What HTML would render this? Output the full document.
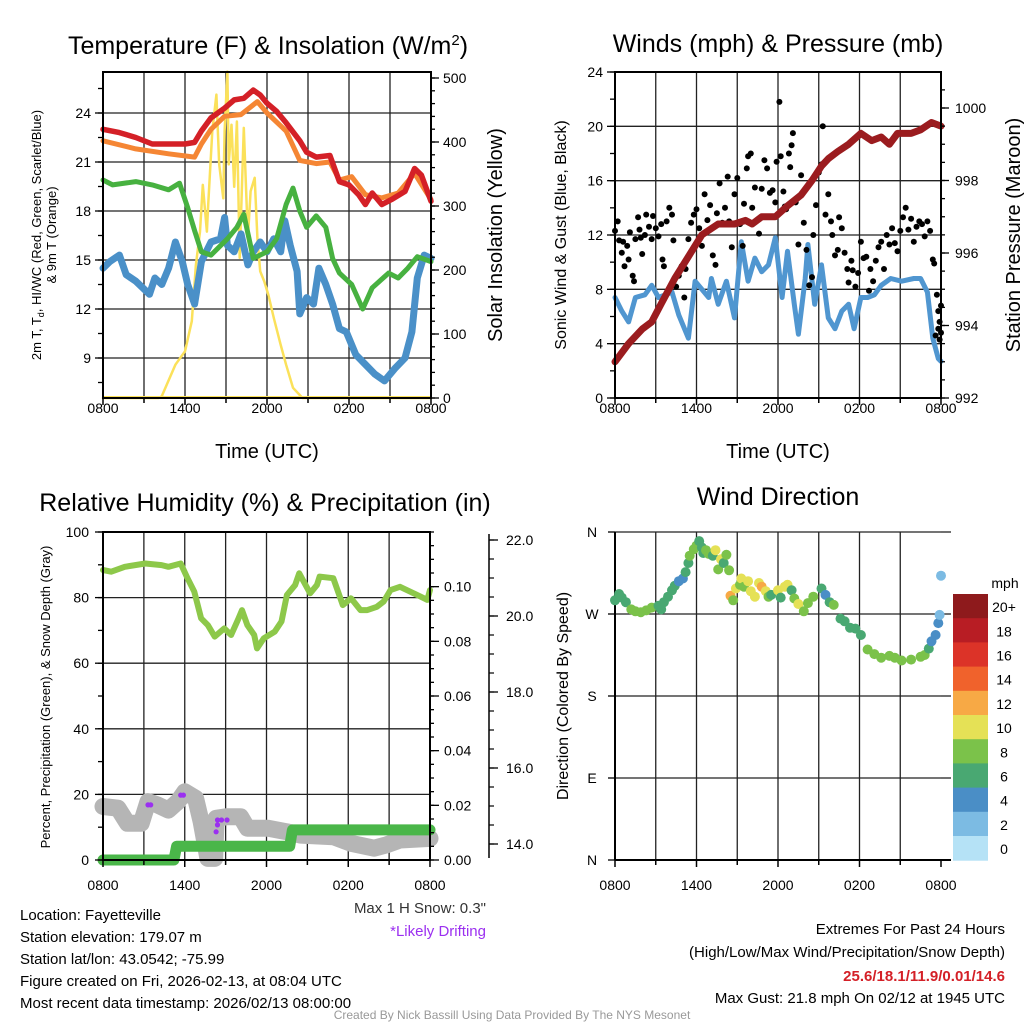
<!DOCTYPE html>
<html><head><meta charset="utf-8"><style>
html,body{margin:0;padding:0;background:#fff;}
svg{display:block;font-family:"Liberation Sans",Arial,sans-serif;}
</style></head><body>
<svg id="c" width="1024" height="1024" viewBox="0 0 1024 1024" xmlns="http://www.w3.org/2000/svg"></svg>
<script>
// ---------- DATA ----------
const xTickLabels = ["0800","1400","2000","0200","0800"];
// Panel 1 (hours since 0800 UTC, deg F)
const redH = [0,1.2,2.4,3.6,4.8,6,6.7,7.2,7.9,8.9,9.6,10.3,11,11.5,12,12.7,13.4,14.4,14.9,15.6,16.6,17.3,18,18.7,19.2,19.7,20.4,21.1,22.1,22.8,23.3,24];
const redV = [23.0,22.8,22.5,22.1,22.1,22.1,22.2,22.9,23.7,24.3,24.8,24.9,25.4,25.1,24.6,24.1,23.4,22.3,21.6,21.3,21.4,19.8,19.6,19.0,18.4,19.1,18.4,18.7,19.2,20.6,20.2,18.6];
const oraH = [0,2.4,4.8,6.7,7.2,7.9,8.9,10.1,11.3,12,13.4,14.4,15.6,16.6,17.3,18.2,19.2,20.4,21.6,22.8,24];
const oraV = [22.3,21.8,21.5,21.3,22.1,23.0,23.8,23.9,24.7,24.0,22.9,21.1,20.9,21.0,19.9,20.1,19.0,18.8,19.1,20.3,18.7];
const grnH = [0,0.7,2.4,3.6,4.8,5.6,6.2,6.7,7.2,7.9,9.1,9.8,10.3,11,12,12.7,13.4,13.9,14.4,14.9,15.6,16.3,16.8,17.3,18.2,19,19.7,20.9,21.6,22.3,23,24];
const grnV = [19.9,19.6,19.8,19.6,19.3,19.7,18.2,16.8,15.5,15.3,16.3,17.0,17.8,15.1,15.5,16.3,18.4,19.4,18.0,17.0,17.7,17.0,15.1,14.2,13.5,12.0,13.3,14.2,13.9,14.5,15.2,14.9];
const bluH = [0,0.5,1.2,1.7,2.4,3.4,3.8,4.3,4.8,5.3,5.8,6.2,6.7,7.2,7.9,8.6,8.9,9.1,9.6,10.1,10.6,11,11.5,12,12.5,13,13.3,13.7,14.2,14.4,14.9,15.4,15.8,16.3,16.8,17.3,17.8,18.5,19.2,19.9,20.6,21.4,22.1,22.6,23,23.5,24];
const bluV = [14.5,14.9,15.3,14.1,13.7,12.9,13.9,13.5,14.5,16.1,14.9,13.5,12.3,14.9,16.1,16.3,17.6,15.9,15.5,16.6,14.7,15.5,16.1,15.5,16.3,15.5,17.4,15.9,14.3,11.7,12.7,12.3,14.5,13.5,12.3,10.8,10.6,9.2,8.6,8.0,7.6,8.4,9.0,10.6,13.9,15.3,15.1];
const solH = [0,4.1,4.3,5.3,6,6.5,6.8,7.1,7.3,7.6,7.7,8,8.3,8.5,8.8,8.9,9.1,9.2,9.4,9.6,9.8,10,10.3,10.6,10.8,11.1,11.3,11.5,11.8,12.1,12.5,13,13.4,13.9,14.6,24];
const solV = [0,0,3,52,73,120,208,260,333,260,302,417,474,365,312,417,510,365,427,330,432,219,422,250,323,344,250,198,182,161,125,83,52,16,0,0];
// Panel 2
const windH = [0,0.5,1,1.5,2.2,2.7,3.2,3.7,4.2,4.7,5.4,5.9,6.9,7.1,7.6,8.2,8.8,9.3,9.8,10.3,10.8,11.3,11.8,12.3,12.7,13.2,13.5,14,14.2,14.7,15.2,15.7,16.2,16.7,17.2,17.6,18.1,18.6,19.1,19.6,20.3,21.1,22,22.5,23,23.4,23.8,24];
const windV = [7.4,6.4,5.6,7.4,7.6,8.3,7.4,7.6,7.8,6.1,4.4,8.6,7.4,8.8,6.9,8.6,5.9,11.5,8.6,10.3,9.3,9.8,11.8,7.4,10.8,6.9,4.7,8.8,11.3,6.9,9.8,5.9,5.1,6.4,6.9,5.1,7.4,7.4,7.6,8.3,8.8,8.6,8.8,8.8,7.8,4.4,2.9,2.7];
const gustH = [0,0.2,0.3,0.5,0.6,0.7,0.9,1.0,1.1,1.3,1.4,1.5,1.7,1.8,1.9,2.0,2.2,2.3,2.5,2.7,2.8,3.0,3.2,3.4,3.5,3.6,3.8,4.0,4.2,4.3,4.5,4.7,4.9,5.1,5.2,5.4,5.6,5.8,6.0,6.2,6.4,6.6,6.8,7.0,7.2,7.4,7.5,7.7,7.9,8.1,8.3,8.4,8.6,8.8,9.0,9.2,9.4,9.5,9.7,9.8,10.0,10.1,10.3,10.5,10.6,10.8,11.0,11.2,11.4,11.6,11.8,11.9,12.1,12.2,12.4,12.5,12.6,12.8,12.9,13.0,13.1,13.3,13.5,13.7,13.9,14.1,14.3,14.5,14.6,14.8,15.0,15.2,15.3,15.5,15.7,15.9,16.0,16.2,16.4,16.5,16.7,16.9,17.1,17.2,17.4,17.5,17.7,17.9,18.1,18.3,18.5,18.7,18.8,19.0,19.2,19.4,19.6,19.8,20.0,20.2,20.4,20.6,20.8,21.0,21.2,21.4,21.6,21.8,22.0,22.2,22.4,22.6,22.8,23.0,23.2,23.4,23.5,23.7,23.8,23.9,24.0,23.6,23.8,23.9,24.0];
const gustV = [12.3,13.0,11.6,10.7,11.5,9.7,11.2,10.2,12.2,9.0,8.6,11.7,13.3,12.4,11.8,10.6,12.0,13.5,12.6,11.7,13.4,12.5,11.9,12.8,10.2,9.7,13.0,14.0,13.5,11.6,8.2,9.0,9.7,7.4,9.5,11.7,12.9,13.5,13.9,12.5,11.2,15.0,13.1,14.2,10.5,9.8,13.6,15.8,12.9,14.0,16.3,13.0,11.1,15.0,16.2,12.8,11.2,14.3,16.9,17.8,18.0,14.0,15.5,13.1,12.1,15.4,17.5,16.9,15.1,15.3,14.4,17.4,21.8,17.8,15.2,14.1,13.9,18.0,17.0,18.6,19.5,14.4,11.3,16.4,12.9,10.9,8.3,8.9,12.0,14.2,16.6,17.2,20.0,13.5,15.0,13.0,12.0,10.5,10.9,13.3,12.5,10.7,9.5,8.5,10.1,9.4,8.2,9.2,11.5,10.3,10.4,7.9,9.5,8.6,10.1,11.1,11.5,9.5,12.0,11.3,12.5,11.4,10.8,12.3,13.3,14.0,12.4,13.2,11.5,12.6,13.0,12.8,11.9,13.0,12.3,10.2,9.9,7.6,6.4,5.6,6.8,4.6,5.1,4.3,4.8];
const presH = [0,1,2,2.7,3.4,4.4,5.4,6.4,7.6,8.8,9.6,10.1,10.8,11.8,12.7,13.7,14.5,15.2,15.7,16.4,17.2,18.1,18.9,19.6,20.2,20.8,21.8,22.5,23.3,24];
const presV = [993.0,993.5,993.9,994.1,994.6,995.3,995.9,996.5,996.8,996.8,996.9,996.8,997.0,997.0,997.3,997.6,998.0,998.4,998.6,998.8,999.0,999.3,999.1,999.2,999.0,999.3,999.3,999.4,999.6,999.5];
// Panel 3
const rhH = [0,0.6,1.6,3.1,4.3,4.8,5.7,6.2,6.7,7.2,7.7,8.2,8.9,9.4,9.9,10.2,10.6,11.1,11.3,11.8,12.6,13.1,13.5,14.1,14.4,15.2,15.7,15.9,16.9,17.6,18.2,18.9,19.4,20.1,20.6,21.1,21.8,22.8,23.3,23.8,24];
const rhV = [88.4,87.9,89.4,90.4,89.9,89.4,90.4,85.9,81.8,73.7,71.6,68.1,70.6,68.6,73.2,76.2,71.6,68.6,64.5,67.6,69.6,72.7,80.8,83.8,87.4,81.3,83.8,86.4,85.9,77.7,79.8,76.2,76.2,77.2,78.8,82.3,83.3,81.3,80.3,79.3,82.3];
const prH = [0,5.2,5.4,13.7,13.9,24];
const prV = [0,0,0.005,0.005,0.011,0.011];
const snowH = [0,1.1,1.8,2.8,3.3,4.0,4.8,5.5,6.0,6.8,7.2,7.7,8.2,8.3,9.1,10.1,10.6,12.1,13.5,14.5,16.9,18.2,19.9,20.8,21.8,24];
const snowV = [16.3,15.8,11.2,11.2,17.8,16.8,15.2,17.8,20.8,18.8,11.7,0.5,0.5,12.7,13.2,13.2,9.7,9.7,8.6,7.6,7.1,5.1,3.6,4.6,6.1,6.6];
const driftH = [3.3,3.5,5.7,5.9,8.4,8.7,9.1,8.4,8.3];
const driftV = [16.8,16.8,19.8,19.8,12.2,12.2,12.2,10.7,8.6];
// Panel 4
const dirH = [0,0.3,0.5,0.8,1.2,1.5,1.9,2.3,2.7,3.2,3.4,3.6,3.9,4.2,4.4,4.7,5.0,5.2,5.4,5.5,5.8,6.0,6.2,6.4,6.5,6.7,6.9,7.2,7.4,7.6,7.8,8.0,8.2,8.4,8.5,8.7,8.9,9.2,9.3,9.5,9.8,10.0,10.3,10.6,10.8,11.1,11.3,11.5,12.0,12.2,12.5,12.7,13.0,13.2,13.5,13.9,14.2,14.6,15.2,15.5,15.8,16.1,16.6,16.9,17.3,17.7,18.1,18.6,19.1,19.6,20.2,20.6,21.1,21.8,22.5,22.8,23.1,23.3,23.6,23.8,23.9,24];
const dirV = [285,292,288,283,275,273,272,274,277,279,275,283,289,296,301,306,309,316,326,334,341,345,350,343,337,340,336,334,340,319,330,326,335,318,290,285,298,302,309,300,306,295,289,304,300,295,289,291,296,288,300,302,296,287,281,273,282,289,298,291,283,280,265,262,255,254,247,231,226,222,224,222,219,220,223,225,232,240,247,260,269,312];
const dirS = [6,6,6,7,8,8,8,8,8,7,7,6,6,6,6,4,4,6,6,8,8,8,7,6,6,8,8,7,10,8,10,6,8,8,12,8,10,9,10,8,10,10,11,10,12,10,8,6,10,6,10,10,7,8,10,8,8,8,6,4,6,8,6,6,6,6,6,8,8,8,8,8,8,8,8,8,7,4,4,4,3,2];
const cbLabels = ["20+","18","16","14","12","10","8","6","4","2","0"];
const cbColors = ["#8e1a1c","#b81d24","#dc3328","#f0622c","#f7a945","#e5e156","#7bc24a","#49a872","#4a8ec6","#7cbbe3","#b5e2f6"];

// ---------- HELPERS ----------
const NS="http://www.w3.org/2000/svg";
const svg=document.getElementById('c');
function mk(tag,attrs,parent){const e=document.createElementNS(NS,tag);for(const k in attrs)e.setAttribute(k,attrs[k]);(parent||svg).appendChild(e);return e;}
function txt(s,x,y,size,anchor,parent,extra){const t=mk('text',Object.assign({x:x,y:y,'font-size':size,'text-anchor':anchor||'middle',fill:'#000'},extra||{}),parent);t.textContent=s;return t;}
function lin(d0,d1,p0,p1){return v=>p0+(v-d0)/(d1-d0)*(p1-p0);}
function poly(hs,vs,xs,ys,stroke,w,parent,name){
  let pts=[];for(let i=0;i<hs.length;i++){pts.push(xs(hs[i]).toFixed(1)+','+ys(vs[i]).toFixed(1));}
  const p=mk('polyline',{points:pts.join(' '),fill:'none',stroke:stroke,'stroke-width':w,'stroke-linejoin':'round','stroke-linecap':'round'},parent);
  
  
  return p;
}
function frame(g,x0,x1,y0,y1,hLines,vLines){
  hLines.forEach(y=>mk('line',{x1:x0,x2:x1,y1:y,y2:y,stroke:'#222','stroke-width':1.3},g));
  vLines.forEach(x=>mk('line',{x1:x,x2:x,y1:y0,y2:y1,stroke:'#222','stroke-width':1.3},g));
}
function box(g,x0,x1,y0,y1){mk('rect',{x:x0,y:y0,width:x1-x0,height:y1-y0,fill:'none',stroke:'#000','stroke-width':2},g);}
function xAxis(g,xs,y,ly){
  for(let h=0;h<=24;h+=3){mk('line',{x1:xs(h),x2:xs(h),y1:y,y2:y+(h%6==0?7:5),stroke:'#000','stroke-width':1.5},g);}
  xTickLabels.forEach((l,i)=>{const t=txt(l,xs(i*6),ly,14,'middle',g);});
}
function ticksY(g,x,ys,vals,dir,len,lo,hi){vals.forEach(v=>{const y=ys(v);if(lo!==undefined&&(y<lo-0.5||y>hi+0.5))return;mk('line',{x1:x,x2:x+dir*len,y1:y,y2:y,stroke:'#000','stroke-width':1.3},g);});}

// ---------- PANEL 1 ----------
(function(){
 const g=mk('g',{});
 const X0=103,X1=431,Y0=72,Y1=398;
 const xs=lin(0,24,X0,X1), ys=lin(24,9,113,358), ysol=lin(0,500,398,78);
 const grid=[]; [9,12,15,18,21,24].forEach(v=>grid.push(ys(v)));
 const vg=[];for(let h=3;h<24;h+=3)vg.push(xs(h));
 frame(g,X0,X1,Y0,Y1,grid,vg);
 poly(solH,solV,xs,ysol,'#fbe15a',2.5,g,'solar-insolation-line');
 poly(bluH,bluV,xs,ys,'#4a90c8',7,g,'dewpoint-line');
 poly(grnH,grnV,xs,ys,'#47b140',5,g,'hi-wc-line');
 poly(oraH,oraV,xs,ys,'#f58634',5,g,'9m-temperature-line');
 poly(redH,redV,xs,ys,'#d42027',5.5,g,'2m-temperature-line');
 mk('line',{x1:X0,x2:X1,y1:Y1-1,y2:Y1-1,stroke:'#fbe15a','stroke-width':2},g);
 box(g,X0,X1,Y0,Y1);
 const mt=[];for(let v=7.5;v<=27;v+=1.5)mt.push(v);ticksY(g,X0,ys,mt,-1,5,Y0,Y1);ticksY(g,X0,ys,[9,12,15,18,21,24],-1,8);
 [9,12,15,18,21,24].forEach(v=>txt(String(v),X0-12,ys(v)+5,14,'end',g));
 const st=[];for(let v=0;v<=500;v+=20)st.push(v);ticksY(g,X1,ysol,st,1,4,Y0,Y1);ticksY(g,X1,ysol,[0,100,200,300,400,500],1,8);
 [0,100,200,300,400,500].forEach(v=>txt(String(v),X1+12,ysol(v)+5,14,'start',g));
 xAxis(g,xs,Y1,413);
 const t=txt('',268,54,25,'middle',g);
 t.innerHTML='Temperature (F) &amp; Insolation (W/m<tspan dy="-9" font-size="15">2</tspan><tspan dy="9">)</tspan>';
 const xl=txt('Time (UTC)',267,458,20,'middle',g);
 const y1=txt('',0,0,13,'middle',g,{transform:'translate(41,235) rotate(-90)'});
 y1.innerHTML='2m T, T<tspan font-size="9" dy="3">d</tspan><tspan dy="-3">, HI/WC (Red, Green, Scarlet/Blue)</tspan>';
 txt('& 9m T (Orange)',0,0,13,'middle',g,{transform:'translate(56,235) rotate(-90)'});
 const y2=txt('Solar Insolation (Yellow)',0,0,20,'middle',g,{transform:'translate(502,235) rotate(-90)'});
})();

// ---------- PANEL 2 ----------
(function(){
 const g=mk('g',{});
 const X0=615,X1=941,Y0=72,Y1=398;
 const xs=lin(0,24,X0,X1), ys=lin(0,24,Y1,Y0), yp=lin(992,1000,398,108);
 const grid=[4,8,12,16,20].map(ys);const vg=[];for(let h=3;h<24;h+=3)vg.push(xs(h));
 frame(g,X0,X1,Y0,Y1,grid,vg);
 poly(windH,windV,xs,ys,'#5096d0',5,g,'sonic-wind-line');
 for(let i=0;i<gustH.length;i++){const c=mk('circle',{cx:xs(gustH[i]).toFixed(1),cy:ys(gustV[i]).toFixed(1),r:3,fill:'#000'},g);
  
  }
 poly(presH,presV,xs,yp,'#9b1c1f',7,g,'pressure-line');
 box(g,X0,X1,Y0,Y1);
 const mt=[];for(let v=0;v<=24;v+=2)mt.push(v);ticksY(g,X0,ys,mt,-1,5);ticksY(g,X0,ys,[0,4,8,12,16,20,24],-1,8);
 [0,4,8,12,16,20,24].forEach(v=>txt(String(v),X0-12,ys(v)+5,14,'end',g));
 const pt=[];for(let v=992;v<=1000.5;v+=0.5)pt.push(v);ticksY(g,X1,yp,pt,1,4,Y0,Y1);ticksY(g,X1,yp,[992,994,996,998,1000],1,8);
 [992,994,996,998,1000].forEach(v=>txt(String(v),X1+14,yp(v)+5,14,'start',g));
 xAxis(g,xs,Y1,413);
 const t=txt('Winds (mph) & Pressure (mb)',778,52,25,'middle',g);
 const xl=txt('Time (UTC)',778,458,20,'middle',g);
 const y1=txt('Sonic Wind & Gust (Blue, Black)',0,0,16,'middle',g,{transform:'translate(566,235) rotate(-90)'});
 const y2=txt('Station Pressure (Maroon)',0,0,20,'middle',g,{transform:'translate(1020,235) rotate(-90)'});
})();

// ---------- PANEL 3 ----------
(function(){
 const g=mk('g',{});
 const X0=103,X1=430,Y0=532,Y1=860;
 const xs=lin(0,24,X0,X1), ys=lin(0,100,Y1,Y0), ypr=lin(0,0.12,Y1,Y0), ysn=lin(16,22,768,540);
 const grid=[20,40,60,80].map(ys);const vg=[];for(let h=3;h<24;h+=3)vg.push(xs(h));
 frame(g,X0,X1,Y0,Y1,grid,vg);
 poly(snowH,snowV,xs,ys,'#b5b5b5',17,g,'snow-depth-line');
 for(let i=0;i<driftH.length;i++){const c=mk('circle',{cx:xs(driftH[i]).toFixed(1),cy:ys(driftV[i]).toFixed(1),r:2.6,fill:'#9b30f0'},g);
  
  }
 poly(prH,prV,xs,ypr,'#4ab649',11,g,'precipitation-line');
 poly(rhH,rhV,xs,ys,'#8dc84a',6,g,'relative-humidity-line');
 box(g,X0,X1,Y0,Y1);
 const mt=[];for(let v=0;v<=100;v+=10)mt.push(v);ticksY(g,X0,ys,mt,-1,5);ticksY(g,X0,ys,[0,20,40,60,80,100],-1,8);
 [0,20,40,60,80,100].forEach(v=>txt(String(v),X0-14,ys(v)+5,14,'end',g));
 const pt=[];for(let v=0;v<=0.12001;v+=0.005)pt.push(v);ticksY(g,X1,ypr,pt,1,4);ticksY(g,X1,ypr,[0,0.02,0.04,0.06,0.08,0.1],1,9);
 [0,0.02,0.04,0.06,0.08,0.1].forEach(v=>txt(v.toFixed(2),X1+14,ypr(v)+5,14,'start',g));
 mk('line',{x1:489,x2:489,y1:534,y2:858,stroke:'#000','stroke-width':1.5},g);
 const sn=[];for(let v=13;v<=22.4;v+=0.5)sn.push(v);
 sn.filter(v=>ysn(v)<=858&&ysn(v)>=534).forEach(v=>mk('line',{x1:489,x2:494,y1:ysn(v),y2:ysn(v),stroke:'#000','stroke-width':1.2},g));
 [14,16,18,20,22].forEach(v=>{mk('line',{x1:489,x2:498,y1:ysn(v),y2:ysn(v),stroke:'#000','stroke-width':1.3},g);txt(v.toFixed(1),506,ysn(v)+5,14,'start',g);});
 xAxis(g,xs,Y1,890);
 const t=txt('Relative Humidity (%) & Precipitation (in)',265,511,25,'middle',g);
 const y1=txt('Percent, Precipitation (Green), & Snow Depth (Gray)',0,0,13,'middle',g,{transform:'translate(50,697) rotate(-90)'});
})();

// ---------- PANEL 4 ----------
(function(){
 const g=mk('g',{});
 const X0=615,X1=941,Y0=532,Y1=860;
 const xs=lin(0,24,X0,X1), ys=lin(0,360,Y1,Y0);
 const grid=[90,180,270,360].map(ys);const vg=[];for(let h=3;h<24;h+=3)vg.push(xs(h));
 frame(g,X0,X1,Y0,Y1,grid,vg);
 mk('line',{x1:X1,x2:X1+10,y1:Y0,y2:Y0,stroke:'#222','stroke-width':1.3},g);
 [90,180,270].forEach(v=>mk('line',{x1:X1,x2:X1+10,y1:ys(v),y2:ys(v),stroke:'#222','stroke-width':1.3},g));
 mk('line',{x1:X0,x2:X0,y1:Y0,y2:Y1,stroke:'#000','stroke-width':2},g);
 mk('line',{x1:X0,x2:X1+10,y1:Y1,y2:Y1,stroke:'#000','stroke-width':2},g);
 for(let i=0;i<dirH.length;i++){
  const s=dirS[i]; const idx=10-Math.min(10,Math.floor(s/2));
  const c=mk('circle',{cx:xs(dirH[i]).toFixed(1),cy:ys(dirV[i]).toFixed(1),r:5,fill:cbColors[idx]},g);
  
  
 }
 [[0,'N'],[90,'E'],[180,'S'],[270,'W'],[360,'N']].forEach(a=>{mk('line',{x1:X0,x2:X0-7,y1:ys(a[0]),y2:ys(a[0]),stroke:'#000','stroke-width':1.3},g);txt(a[1],592,ys(a[0])+5,14,'middle',g);});
 xAxis(g,xs,Y1,890);
 const t=txt('Wind Direction',778,505,25,'middle',g);
 const y1=txt('Direction (Colored By Speed)',0,0,16,'middle',g,{transform:'translate(568,696) rotate(-90)'});
 const cb=mk('g',{},g);
 const bh=24.2;
 cbColors.forEach((c,i)=>{mk('rect',{x:953,y:594+i*bh,width:35,height:bh+0.5,fill:c},cb);txt(cbLabels[i],1004,594+i*bh+bh/2+6,14,'middle',cb);});
 txt('mph',1005,588,14,'middle',cb);
})();

// ---------- TEXT ----------
(function(){
 const g=mk('g',{});
 ['Location: Fayetteville','Station elevation: 179.07 m','Station lat/lon: 43.0542; -75.99','Figure created on Fri, 2026-02-13, at 08:04 UTC','Most recent data timestamp: 2026/02/13 08:00:00'].forEach((s,i)=>txt(s,20,920+i*22,15,'start',g));
 txt('Max 1 H Snow: 0.3"',486,913,15,'end',g,{fill:'#333'});
 txt('*Likely Drifting',486,936,15,'end',g,{fill:'#9b30f0'});
 txt('Extremes For Past 24 Hours',1005,934,15,'end',g);
 txt('(High/Low/Max Wind/Precipitation/Snow Depth)',1005,957,15,'end',g);
 txt('25.6/18.1/11.9/0.01/14.6',1005,981,15,'end',g,{fill:'#d42027','font-weight':'bold'});
 txt('Max Gust: 21.8 mph On 02/12 at 1945 UTC',1005,1003,15,'end',g);
 txt('Created By Nick Bassill Using Data Provided By The NYS Mesonet',512,1019,12,'middle',g,{fill:'#999'});
})();
</script>
</body></html>
